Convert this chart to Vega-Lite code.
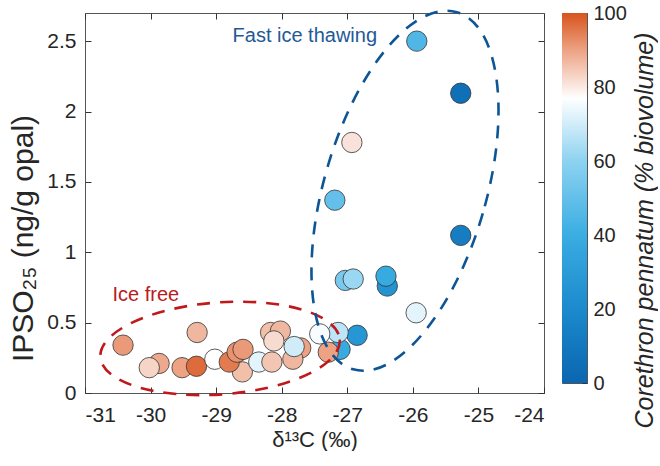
{
  "$schema": "https://vega.github.io/schema/vega-lite/v6.json",
  "padding": {"left": 7, "top": 2, "right": 0, "bottom": 0},
  "autosize": {"type": "pad"},
  "background": "white",
  "bounds": "flush",
  "spacing": 18,
  "config": {
    "font": "Liberation Sans",
    "view": {"stroke": "#555555", "strokeWidth": 1},
    "axis": {
      "domain": false,
      "grid": false,
      "tickSize": -6,
      "tickColor": "#333333",
      "tickWidth": 1,
      "labelFont": "Liberation Sans",
      "labelFontSize": 21,
      "labelColor": "#262626",
      "titleFont": "Liberation Sans",
      "titleFontWeight": "normal",
      "titleColor": "#262626"
    }
  },
  "hconcat": [
    {
      "width": 459,
      "height": 380,
      "layer": [
        {
          "data": {
            "values": [
              {"d13C": -25.94, "IPSO25": 2.50, "Corethron": 45},
              {"d13C": -25.27, "IPSO25": 2.13, "Corethron": 5},
              {"d13C": -26.93, "IPSO25": 1.78, "Corethron": 81},
              {"d13C": -27.19, "IPSO25": 1.37, "Corethron": 50},
              {"d13C": -25.27, "IPSO25": 1.12, "Corethron": 13},
              {"d13C": -27.03, "IPSO25": 0.80, "Corethron": 55},
              {"d13C": -26.91, "IPSO25": 0.81, "Corethron": 62},
              {"d13C": -26.39, "IPSO25": 0.76, "Corethron": 25},
              {"d13C": -26.41, "IPSO25": 0.83, "Corethron": 38},
              {"d13C": -25.95, "IPSO25": 0.57, "Corethron": 73},
              {"d13C": -26.85, "IPSO25": 0.41, "Corethron": 27},
              {"d13C": -27.11, "IPSO25": 0.31, "Corethron": 38},
              {"d13C": -27.29, "IPSO25": 0.29, "Corethron": 90},
              {"d13C": -27.14, "IPSO25": 0.43, "Corethron": 67},
              {"d13C": -27.42, "IPSO25": 0.42, "Corethron": 76},
              {"d13C": -30.42, "IPSO25": 0.34, "Corethron": 91},
              {"d13C": -29.29, "IPSO25": 0.43, "Corethron": 87},
              {"d13C": -29.87, "IPSO25": 0.21, "Corethron": 89},
              {"d13C": -30.02, "IPSO25": 0.18, "Corethron": 83},
              {"d13C": -29.52, "IPSO25": 0.18, "Corethron": 90},
              {"d13C": -29.30, "IPSO25": 0.19, "Corethron": 97},
              {"d13C": -29.02, "IPSO25": 0.24, "Corethron": 77},
              {"d13C": -28.60, "IPSO25": 0.15, "Corethron": 86},
              {"d13C": -28.80, "IPSO25": 0.22, "Corethron": 95},
              {"d13C": -28.68, "IPSO25": 0.29, "Corethron": 92},
              {"d13C": -28.59, "IPSO25": 0.31, "Corethron": 91},
              {"d13C": -28.35, "IPSO25": 0.22, "Corethron": 73},
              {"d13C": -28.15, "IPSO25": 0.22, "Corethron": 85},
              {"d13C": -27.71, "IPSO25": 0.32, "Corethron": 90},
              {"d13C": -27.83, "IPSO25": 0.24, "Corethron": 87},
              {"d13C": -27.81, "IPSO25": 0.33, "Corethron": 70},
              {"d13C": -28.17, "IPSO25": 0.43, "Corethron": 86},
              {"d13C": -28.02, "IPSO25": 0.44, "Corethron": 87},
              {"d13C": -28.12, "IPSO25": 0.37, "Corethron": 82}
            ]
          },
          "mark": {"type": "point", "shape": "circle", "filled": true, "size": 415, "stroke": "#333333", "strokeWidth": 0.8, "opacity": 1},
          "encoding": {
            "x": {
              "field": "d13C", "type": "quantitative",
              "scale": {"domain": [-31, -24], "nice": false, "zero": false},
              "axis": {"values": [-31, -30, -29, -28, -27, -26, -25, -24], "labelExpr": "'' + datum.value", "labelPadding": 17, "title": "δ¹³C (‰)", "titleFontSize": 22, "titlePadding": 4}
            },
            "y": {
              "field": "IPSO25", "type": "quantitative",
              "scale": {"domain": [0, 2.7], "nice": false, "zero": false},
              "axis": {"values": [0, 0.5, 1, 1.5, 2, 2.5], "labelExpr": "'' + datum.value", "labelPadding": 15, "title": "IPSO₂₅ (ng/g opal)", "titleFontSize": 30, "titleX": -47, "titleY": 225}
            },
            "color": {
              "field": "Corethron", "type": "quantitative",
              "scale": {"domain": [0, 20, 40, 60, 77, 90, 100], "range": ["#0a66b0", "#1c8acd", "#3aade2", "#8dd2f1", "#ffffff", "#eca283", "#d8531c"], "interpolate": "rgb"},
              "legend": null
            }
          }
        },
        {
          "data": {"values": [{"zone": "Ice free", "d13C": -28.94, "IPSO25": 0.317}]},
          "mark": {"type": "point", "shape": "M0.99731,-0.07324C1.01281,0.13789 0.57888,0.34182 0.02807,0.38227C-0.52274,0.42272 -0.98181,0.28437 -0.99731,0.07324C-1.01281,-0.13789 -0.57888,-0.34182 -0.02807,-0.38227C0.52274,-0.42272 0.98181,-0.28437 0.99731,-0.07324Z", "size": 57600, "filled": false, "stroke": "#c0181c", "strokeWidth": 2.6, "strokeDash": [13, 10], "opacity": 1},
          "encoding": {
            "x": {"field": "d13C", "type": "quantitative", "scale": {"domain": [-31, -24], "nice": false, "zero": false}, "axis": null},
            "y": {"field": "IPSO25", "type": "quantitative", "scale": {"domain": [0, 2.7], "nice": false, "zero": false}, "axis": null}
          }
        },
        {
          "data": {"values": [{"zone": "Fast ice thawing", "d13C": -26.12, "IPSO25": 1.437}]},
          "mark": {"type": "point", "shape": "M0.41821,0.1215C0.26412,0.65187 -0.04804,1.02739 -0.27899,0.96029C-0.50994,0.89319 -0.5723,0.40887 -0.41821,-0.1215C-0.26412,-0.65187 0.04804,-1.02739 0.27899,-0.96029C0.50994,-0.89319 0.5723,-0.40887 0.41821,0.1215Z", "size": 138384, "filled": false, "stroke": "#0d5595", "strokeWidth": 2.6, "strokeDash": [13, 10], "opacity": 1},
          "encoding": {
            "x": {"field": "d13C", "type": "quantitative", "scale": {"domain": [-31, -24], "nice": false, "zero": false}, "axis": {"orient": "top", "labels": false, "title": null, "values": [-31, -30, -29, -28, -27, -26, -25, -24]}},
            "y": {"field": "IPSO25", "type": "quantitative", "scale": {"domain": [0, 2.7], "nice": false, "zero": false}, "axis": {"orient": "right", "labels": false, "title": null, "values": [0, 0.5, 1, 1.5, 2, 2.5]}}
          }
        },
        {
          "data": {"values": [{"label": "Fast ice thawing", "d13C": -28.75, "IPSO25": 2.494}]},
          "mark": {"type": "text", "align": "left", "baseline": "alphabetic", "fontSize": 20, "font": "Liberation Sans", "color": "#1f5a96"},
          "encoding": {
            "x": {"field": "d13C", "type": "quantitative", "scale": {"domain": [-31, -24], "nice": false, "zero": false}, "axis": null},
            "y": {"field": "IPSO25", "type": "quantitative", "scale": {"domain": [0, 2.7], "nice": false, "zero": false}, "axis": null},
            "text": {"field": "label"}
          }
        },
        {
          "data": {"values": [{"label": "Ice free", "d13C": -30.58, "IPSO25": 0.656}]},
          "mark": {"type": "text", "align": "left", "baseline": "alphabetic", "fontSize": 20, "font": "Liberation Sans", "color": "#b81c1c"},
          "encoding": {
            "x": {"field": "d13C", "type": "quantitative", "scale": {"domain": [-31, -24], "nice": false, "zero": false}, "axis": null},
            "y": {"field": "IPSO25", "type": "quantitative", "scale": {"domain": [0, 2.7], "nice": false, "zero": false}, "axis": null},
            "text": {"field": "label"}
          }
        }
      ],
      "resolve": {"axis": {"x": "independent", "y": "independent"}}
    },
    {
      "width": 25,
      "height": 370,
      "data": {"values": [{"left": 0, "right": 1, "low": 0, "high": 100}]},
      "mark": {
        "type": "rect",
        "color": {
          "gradient": "linear", "x1": 0, "y1": 1, "x2": 0, "y2": 0,
          "stops": [
            {"offset": 0, "color": "#0a66b0"},
            {"offset": 0.2, "color": "#1c8acd"},
            {"offset": 0.4, "color": "#3aade2"},
            {"offset": 0.6, "color": "#8dd2f1"},
            {"offset": 0.77, "color": "#ffffff"},
            {"offset": 0.9, "color": "#eca283"},
            {"offset": 1, "color": "#d8531c"}
          ]
        }
      },
      "encoding": {
        "x": {"field": "left", "type": "quantitative", "scale": {"domain": [0, 1], "nice": false, "zero": false}, "axis": null},
        "x2": {"field": "right"},
        "y": {
          "field": "low", "type": "quantitative",
          "scale": {"domain": [0, 100], "nice": false, "zero": false},
          "axis": {
            "orient": "right",
            "values": [0, 20, 40, 60, 80, 100],
            "tickSize": -5,
            "labelPadding": 11,
            "labelFontSize": 20,
            "labelFlush": false,
            "labelOverlap": false,
            "labelBaseline": "middle",
            "title": "Corethron pennatum (% biovolume)",
            "titleFontSize": 25,
            "titleFontStyle": "italic",
            "titleAngle": 270,
            "titleBaseline": "top",
            "titleAlign": "center",
            "titleX": 45,
            "titleY": 217,
            "titleLimit": 700
          }
        },
        "y2": {"field": "high"}
      }
    }
  ]
}
